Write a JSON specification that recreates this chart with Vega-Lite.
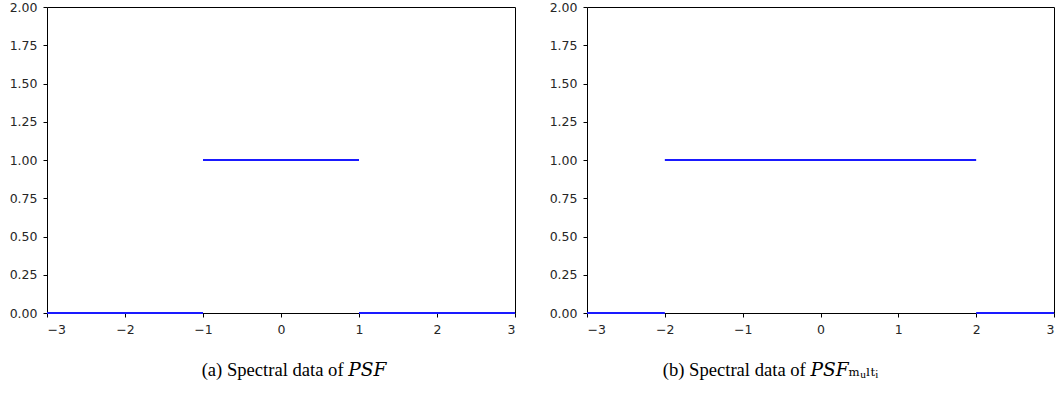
{
  "$schema": "https://vega.github.io/schema/vega-lite/v6.json",
  "padding": {"left": 8, "top": 0, "right": 0, "bottom": 0},
  "background": "white",
  "datasets": {
    "psf": [
      {"seg": "a", "x": -3, "y": 0}, {"seg": "a", "x": -1, "y": 0},
      {"seg": "b", "x": -1, "y": 1}, {"seg": "b", "x": 1, "y": 1},
      {"seg": "c", "x": 1, "y": 0}, {"seg": "c", "x": 3, "y": 0}
    ],
    "multi": [
      {"seg": "a", "x": -3, "y": 0}, {"seg": "a", "x": -2, "y": 0},
      {"seg": "b", "x": -2, "y": 1}, {"seg": "b", "x": 2, "y": 1},
      {"seg": "c", "x": 2, "y": 0}, {"seg": "c", "x": 3, "y": 0}
    ]
  },
  "config": {
    "view": {"stroke": "#000000", "strokeWidth": 1},
    "concat": {"spacing": 28},
    "axis": {
      "domain": false,
      "grid": false,
      "ticks": true,
      "tickSize": 4,
      "tickColor": "#000000",
      "labelFont": "DejaVu Sans",
      "labelFontSize": 12.5,
      "labelColor": "#262626",
      "labelPadding": 6,
      "title": null
    },
    "title": {
      "font": "Liberation Serif, DejaVu Serif, serif",
      "fontSize": 18.6,
      "fontWeight": "normal",
      "color": "#000000",
      "orient": "bottom",
      "anchor": "middle",
      "offset": 25
    }
  },
  "hconcat": [
    {
      "width": 468,
      "height": 306,
      "title": {"text": "(a) Spectral data of 𝑃𝑆𝐹", "dx": 13},
      "data": {"name": "psf"},
      "mark": {"type": "line", "color": "#1a1aff", "strokeWidth": 2},
      "encoding": {
        "x": {"field": "x", "type": "quantitative", "scale": {"domain": [-3, 3], "nice": false},
              "axis": {"values": [-3, -2, -1, 0, 1, 2, 3], "format": "d"}},
        "y": {"field": "y", "type": "quantitative", "scale": {"domain": [0, 2], "nice": false},
              "axis": {"values": [0, 0.25, 0.5, 0.75, 1, 1.25, 1.5, 1.75, 2], "format": ".2f"}},
        "detail": {"field": "seg"}
      }
    },
    {
      "width": 467,
      "height": 306,
      "title": {"text": "(b) Spectral data of 𝑃𝑆𝐹ₘᵤₗₜᵢ", "dx": -50},
      "data": {"name": "multi"},
      "mark": {"type": "line", "color": "#1a1aff", "strokeWidth": 2},
      "encoding": {
        "x": {"field": "x", "type": "quantitative", "scale": {"domain": [-3, 3], "nice": false},
              "axis": {"values": [-3, -2, -1, 0, 1, 2, 3], "format": "d"}},
        "y": {"field": "y", "type": "quantitative", "scale": {"domain": [0, 2], "nice": false},
              "axis": {"values": [0, 0.25, 0.5, 0.75, 1, 1.25, 1.5, 1.75, 2], "format": ".2f"}},
        "detail": {"field": "seg"}
      }
    }
  ]
}
